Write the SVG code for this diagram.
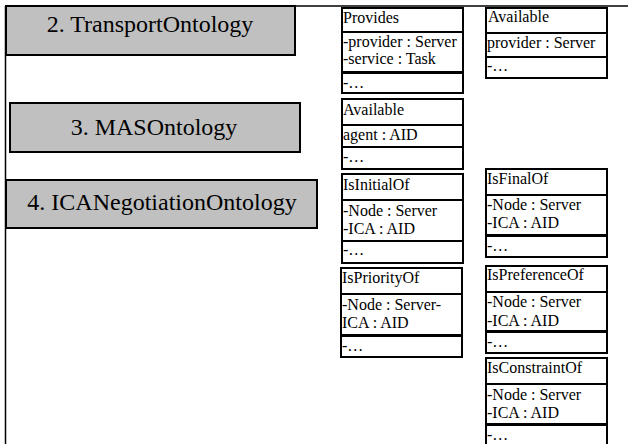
<svg xmlns="http://www.w3.org/2000/svg" width="628" height="444" viewBox="0 0 628 444">
<style>
.pkg{fill:#c0c0c0;stroke:#000;stroke-width:2}
.pt{font-family:"Liberation Serif","Times New Roman",serif;font-size:24px;fill:#000;text-anchor:middle}
.c{fill:#fff;stroke:#000;stroke-width:2}
.t{font-family:"Liberation Serif","Times New Roman",serif;font-size:16px;fill:#000}
.ln{stroke:#000;stroke-width:1.5;fill:none}
</style>
<rect width="628" height="444" fill="#fff"/>
<g id="connectors">
<line class="ln" x1="5.5" y1="6" x2="628" y2="6"/>
<line class="ln" x1="5.5" y1="6" x2="5.5" y2="444"/>
</g>
<g id="transport-ontology">
<rect class="pkg" x="6" y="6" width="289" height="49"/>
<text class="pt" x="150" y="32">2. TransportOntology</text>
</g>
<g id="mas-ontology">
<rect class="pkg" x="10" y="103" width="290" height="49"/>
<text class="pt" x="154" y="135">3. MASOntology</text>
</g>
<g id="ica-negotiation-ontology">
<rect class="pkg" x="6" y="180" width="311" height="48"/>
<text class="pt" x="162" y="210">4. ICANegotiationOntology</text>
</g>
<g id="provides">
<rect class="c" x="342" y="8" width="121" height="24"/>
<rect class="c" x="342" y="32" width="121" height="40"/>
<rect class="c" x="342" y="73" width="121" height="20"/>
<text class="t" x="343" y="23">Provides</text>
<text class="t" x="343" y="47">-provider : Server</text>
<text class="t" x="343" y="64">-service : Task</text>
<text class="t" x="343" y="88">-…</text>
</g>
<g id="available-transport">
<rect class="c" x="486" y="8" width="121" height="25"/>
<rect class="c" x="486" y="33" width="121" height="24"/>
<rect class="c" x="486" y="57" width="121" height="21"/>
<text class="t" x="488" y="22">Available</text>
<text class="t" x="487" y="48">provider : Server</text>
<text class="t" x="487" y="71">-…</text>
</g>
<g id="available-mas">
<rect class="c" x="342" y="99" width="121" height="26"/>
<rect class="c" x="342" y="125" width="121" height="22"/>
<rect class="c" x="342" y="147" width="121" height="22"/>
<text class="t" x="343" y="115">Available</text>
<text class="t" x="343" y="140">agent : AID</text>
<text class="t" x="343" y="162">-…</text>
</g>
<g id="is-initial-of">
<rect class="c" x="342" y="174" width="121" height="26"/>
<rect class="c" x="342" y="200" width="121" height="41"/>
<rect class="c" x="342" y="241" width="121" height="22"/>
<text class="t" x="343" y="190">IsInitialOf</text>
<text class="t" x="343" y="216">-Node : Server</text>
<text class="t" x="343" y="234">-ICA : AID</text>
<text class="t" x="343" y="255">-…</text>
</g>
<g id="is-final-of">
<rect class="c" x="486" y="169" width="121" height="26"/>
<rect class="c" x="486" y="195" width="121" height="40"/>
<rect class="c" x="486" y="236" width="121" height="21"/>
<text class="t" x="487" y="184">IsFinalOf</text>
<text class="t" x="487" y="210">-Node : Server</text>
<text class="t" x="487" y="228">-ICA : AID</text>
<text class="t" x="487" y="251">-…</text>
</g>
<g id="is-priority-of">
<rect class="c" x="341" y="268" width="121" height="26"/>
<rect class="c" x="341" y="294" width="121" height="41"/>
<rect class="c" x="341" y="336" width="121" height="21"/>
<text class="t" x="342" y="283">IsPriorityOf</text>
<text class="t" x="342" y="310">-Node : Server-</text>
<text class="t" x="342" y="328">ICA : AID</text>
<text class="t" x="342" y="351">-…</text>
</g>
<g id="is-preference-of">
<rect class="c" x="486" y="266" width="121" height="26"/>
<rect class="c" x="486" y="292" width="121" height="39"/>
<rect class="c" x="486" y="332" width="121" height="21"/>
<text class="t" x="487" y="280">IsPreferenceOf</text>
<text class="t" x="487" y="307">-Node : Server</text>
<text class="t" x="487" y="326">-ICA : AID</text>
<text class="t" x="487" y="347">-…</text>
</g>
<g id="is-constraint-of">
<rect class="c" x="486" y="358" width="121" height="26"/>
<rect class="c" x="486" y="384" width="121" height="40"/>
<rect class="c" x="486" y="425" width="121" height="24"/>
<text class="t" x="487" y="373">IsConstraintOf</text>
<text class="t" x="487" y="400">-Node : Server</text>
<text class="t" x="487" y="418">-ICA : AID</text>
<text class="t" x="487" y="440">-…</text>
</g>
</svg>
